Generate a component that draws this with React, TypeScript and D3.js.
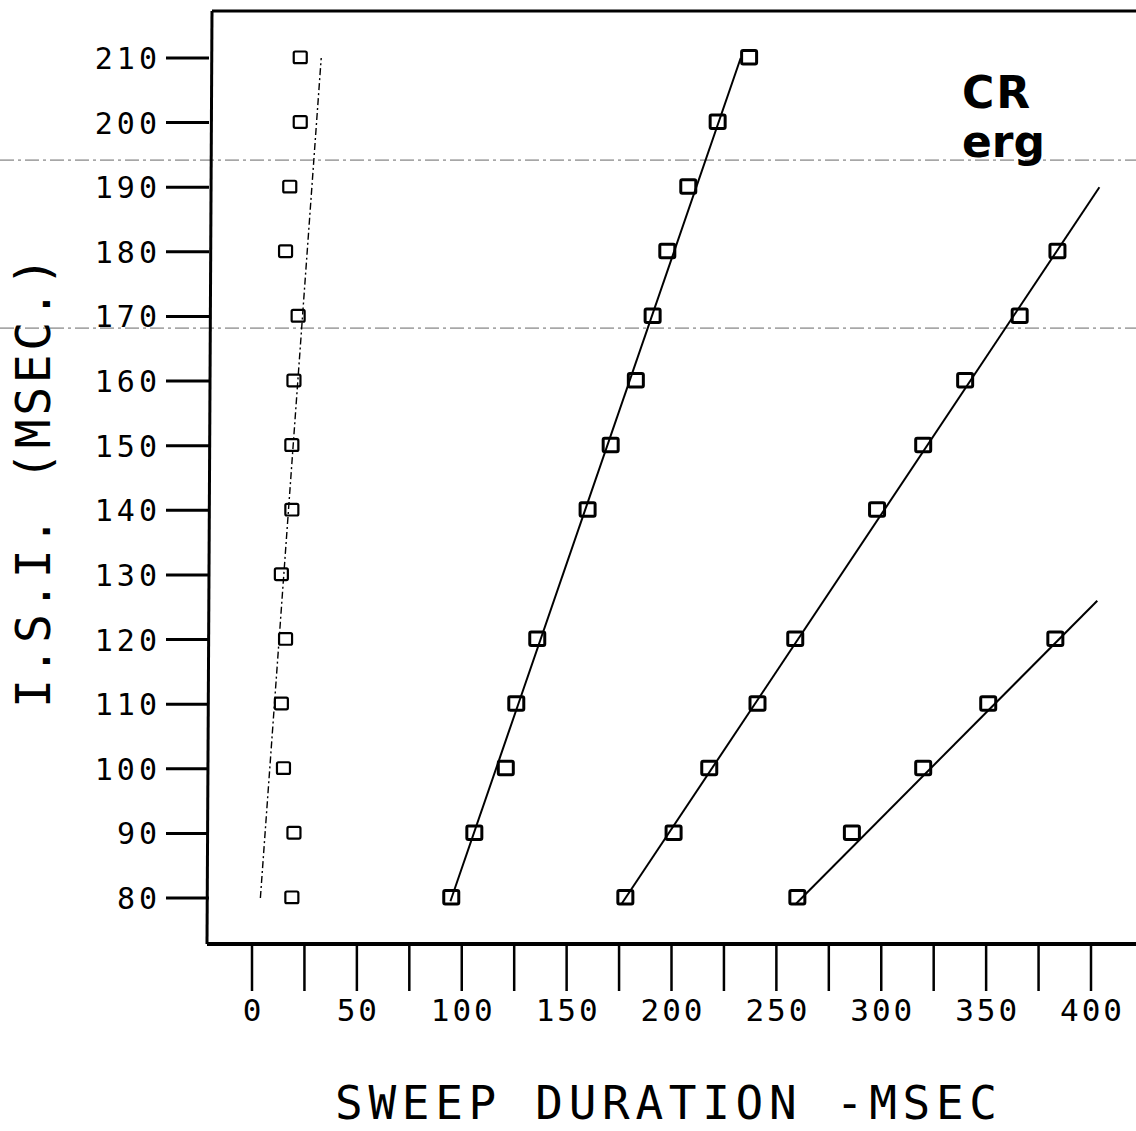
import React from 'react';
import * as d3 from 'd3';

// I.S.I. levels (msec) and the sweep duration read for each of them
const isiTicks = [80, 90, 100, 110, 120, 130, 140, 150, 160, 170, 180, 190, 200, 210];
const sweepTicks = [0, 50, 100, 150, 200, 250, 300, 350, 400];
const sweepMinor = d3.range(0, 401, 25);

const isiA = [80, 90, 100, 110, 120, 130, 140, 150, 160, 170, 180, 190, 200, 210];
const sweepA = [19, 20, 15, 14, 16, 14, 19, 19, 20, 22, 16, 18, 23, 23];

const isiB = [80, 90, 100, 110, 120, 140, 150, 160, 170, 180, 190, 200, 210];
const sweepB = [95, 106, 121, 126, 136, 160, 171, 183, 191, 198, 208, 222, 237];

const isiC = [80, 90, 100, 110, 120, 140, 150, 160, 170, 180];
const sweepC = [178, 201, 218, 241, 259, 298, 320, 340, 366, 384];

const isiD = [80, 90, 100, 110, 120];
const sweepD = [260, 286, 320, 351, 383];

// fitted lines: [sweep, isi] at both ends
const fitA = [[4, 80], [33, 210]];
const fitB = [[94.6, 79.5], [233, 210]];
const fitC = [[176, 79], [404, 190]];
const fitD = [[259, 79], [403, 126]];

// scan streaks across the sheet (isi value where they cross)
const streaks = [194.2, 168.2];

const W = 1136;
const H = 1131;
const mono = '"DejaVu Sans Mono", "Liberation Mono", monospace';

export default function App() {
    const x = d3.scaleLinear().domain([0, 400]).range([252, 1091]);
    const y = d3.scaleLinear().domain([80, 210]).range([898, 58]);

    const axisY = 944;
    const topY = 11;
    const leftX = 209;

    const line = d3.line<number[]>()
        .x(d => x(d[0]))
        .y(d => y(d[1]));

    const pts = (isi: number[], sw: number[]) => isi.map((v, i) => ({ isi: v, sw: sw[i] }));

    const square = (p: { isi: number; sw: number }, i: number, s: number, sw: number) => (
        <rect
            key={i}
            x={x(p.sw) - s / 2}
            y={y(p.isi) - s / 2}
            width={s}
            height={s * 0.9}
            fill="none"
            stroke="#000"
            strokeWidth={sw}
            rx={1.5}
        />
    );

    return (
        <div style={{ position: 'absolute', left: 0, top: 0 }}>
            <svg width={W} height={H} style={{ display: 'block', background: '#fff' }}>
                {/* scanner streaks */}
                {streaks.map((v, i) => (
                    <line key={i} x1={0} x2={W} y1={y(v)} y2={y(v)}
                        stroke="#444" strokeWidth={1} strokeDasharray="14 4 3 4" opacity={0.8} />
                ))}

                {/* frame */}
                <line x1={leftX + 3} y1={topY} x2={W} y2={topY} stroke="#000" strokeWidth={3} />
                <line x1={leftX + 3} y1={topY} x2={leftX - 2} y2={axisY} stroke="#000" strokeWidth={3} />
                <line x1={leftX - 2} y1={axisY} x2={W} y2={axisY} stroke="#000" strokeWidth={4} />

                {/* y ticks */}
                {isiTicks.map(v => (
                    <g key={v}>
                        <line x1={166} x2={leftX} y1={y(v)} y2={y(v)} stroke="#000" strokeWidth={3} />
                        <text x={161} y={y(v) + 11} textAnchor="end" fontFamily={mono}
                            fontSize={30} letterSpacing={4} fill="#000">{v}</text>
                    </g>
                ))}

                {/* x ticks */}
                {sweepMinor.map(v => (
                    <line key={v} x1={x(v)} x2={x(v)} y1={axisY} y2={991} stroke="#000" strokeWidth={2.5} />
                ))}
                {sweepTicks.map(v => (
                    <text key={v} x={x(v) + 1.5} y={1021} textAnchor="middle" fontFamily={mono}
                        fontSize={31} letterSpacing={3} fill="#000">{v}</text>
                ))}

                {/* axis titles */}
                <text x={335} y={1119} fontFamily={mono} fontSize={46} textLength={662}
                    lengthAdjust="spacing" fill="#000">SWEEP DURATION -MSEC</text>
                <text transform="translate(50,708) rotate(-90)" fontFamily={mono} fontSize={48}
                    textLength={451} lengthAdjust="spacing" fill="#000">I.S.I. (MSEC.)</text>

                {/* CR erg label */}
                <text x={962} y={108} fontFamily='"DejaVu Sans", sans-serif' fontWeight="bold"
                    fontSize={44} letterSpacing={2} fill="#000">CR</text>
                <text x={962} y={157} fontFamily='"DejaVu Sans", sans-serif' fontWeight="bold"
                    fontSize={44} fill="#000">erg</text>

                {/* fitted lines */}
                <path d={line(fitA) ?? ''} fill="none" stroke="#000" strokeWidth={1.4}
                    strokeDasharray="7 3 2 3" />
                <path d={line(fitB) ?? ''} fill="none" stroke="#000" strokeWidth={2} />
                <path d={line(fitC) ?? ''} fill="none" stroke="#000" strokeWidth={2} />
                <path d={line(fitD) ?? ''} fill="none" stroke="#000" strokeWidth={2} />

                {/* data squares */}
                {pts(isiA, sweepA).map((p, i) => square(p, i, 13, 2.2))}
                {pts(isiB, sweepB).map((p, i) => square(p, i, 15, 3))}
                {pts(isiC, sweepC).map((p, i) => square(p, i, 15, 3))}
                {pts(isiD, sweepD).map((p, i) => square(p, i, 15, 3))}
            </svg>
        </div>
    );
}
